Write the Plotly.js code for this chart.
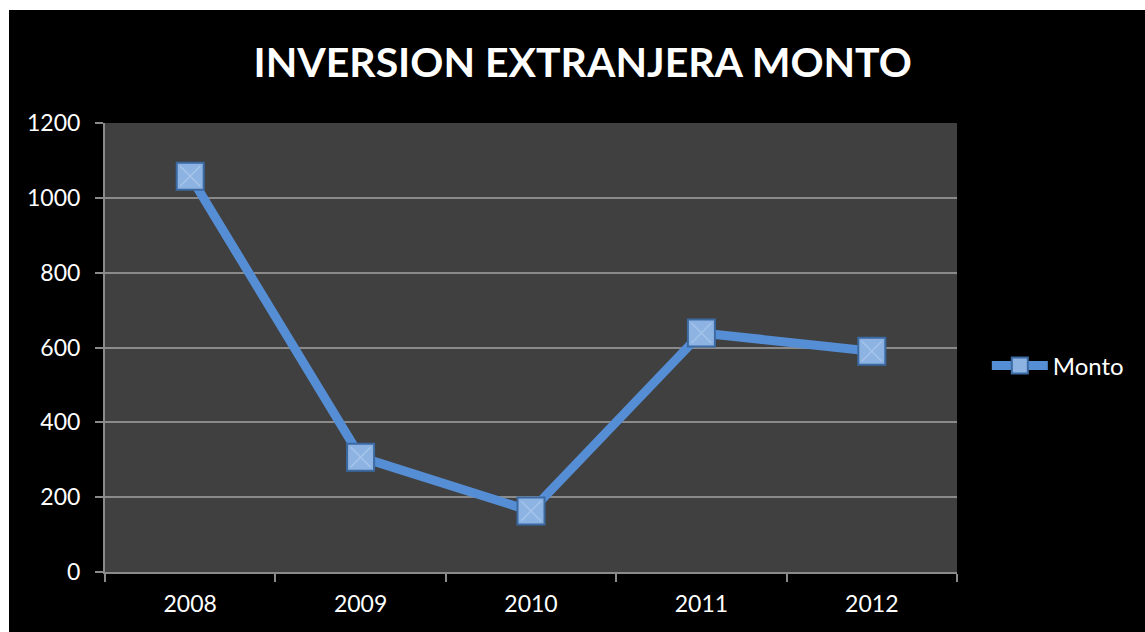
<!DOCTYPE html>
<html>
<head>
<meta charset="utf-8">
<script src="https://cdn.plot.ly/plotly-3.0.1.min.js"></script>
<style>
  html, body { margin: 0; padding: 0; background: #ffffff; overflow: hidden; }
  #chart { position: absolute; left: 9px; top: 10px; width: 1136px; height: 622px; }
</style>
</head>
<body>
<div id="chart"></div>
<script>
const years = ['2008', '2009', '2010', '2011', '2012'];
const monto = [1058, 307, 163, 639, 590];
const yTicks = [0, 200, 400, 600, 800, 1000, 1200];
const chartTitle = 'INVERSION EXTRANJERA MONTO';
const seriesName = 'Monto';

const traces = [
  {
    x: years, y: monto, type: 'scatter', mode: 'lines+markers', name: seriesName,
    line: { color: '#558ed5', width: 9 },
    marker: { symbol: 'square', size: 27, color: '#8db3e2', line: { color: '#3b6aa3', width: 2 } }
  },
  {
    x: years, y: monto, type: 'scatter', mode: 'markers', showlegend: false, hoverinfo: 'skip',
    marker: { symbol: 'x-thin', size: 20, color: 'rgba(0,0,0,0)', line: { color: 'rgba(220,235,255,0.3)', width: 1.5 } }
  }
];

const layout = {
  width: 1136, height: 622,
  paper_bgcolor: '#000000', plot_bgcolor: '#404040',
  margin: { l: 96, r: 188, t: 113, b: 60 },
  font: { family: 'Lato, "Open Sans", sans-serif', color: '#ffffff', size: 23 },
  title: { text: chartTitle, x: 0.505, xref: 'container', xanchor: 'center', y: 0.915, yref: 'container', yanchor: 'middle',
           font: { family: 'Lato, sans-serif', size: 41, color: '#ffffff', weight: 'bold' } },
  xaxis: {
    type: 'category', range: [-0.5, 4.5], tickson: 'boundaries',
    ticks: 'outside', ticklen: 8, tickcolor: '#8a8a8a', tickwidth: 2,
    showline: true, linecolor: '#8a8a8a', linewidth: 2,
    showgrid: false, zeroline: false, fixedrange: true, ticklabelstandoff: 10,
    tickfont: { size: 23, color: '#ffffff' }
  },
  yaxis: {
    range: [0, 1200], tickvals: yTicks, ticktext: yTicks.map(String),
    ticks: 'outside', ticklen: 8, tickcolor: '#8a8a8a', tickwidth: 2,
    showline: true, linecolor: '#8a8a8a', linewidth: 2,
    showgrid: true, gridcolor: '#8a8a8a', gridwidth: 2, zeroline: false,
    ticklabelstandoff: 10,
    tickfont: { size: 23, color: '#ffffff' }, fixedrange: true
  },
  legend: { x: 1.035, xanchor: 'left', y: 0.459, yanchor: 'middle', bgcolor: 'rgba(0,0,0,0)',
            itemwidth: 56, font: { size: 24, color: '#ffffff' } },
  showlegend: true
};

Plotly.newPlot('chart', traces, layout, { displayModeBar: false, staticPlot: true });
</script>
</body>
</html>
